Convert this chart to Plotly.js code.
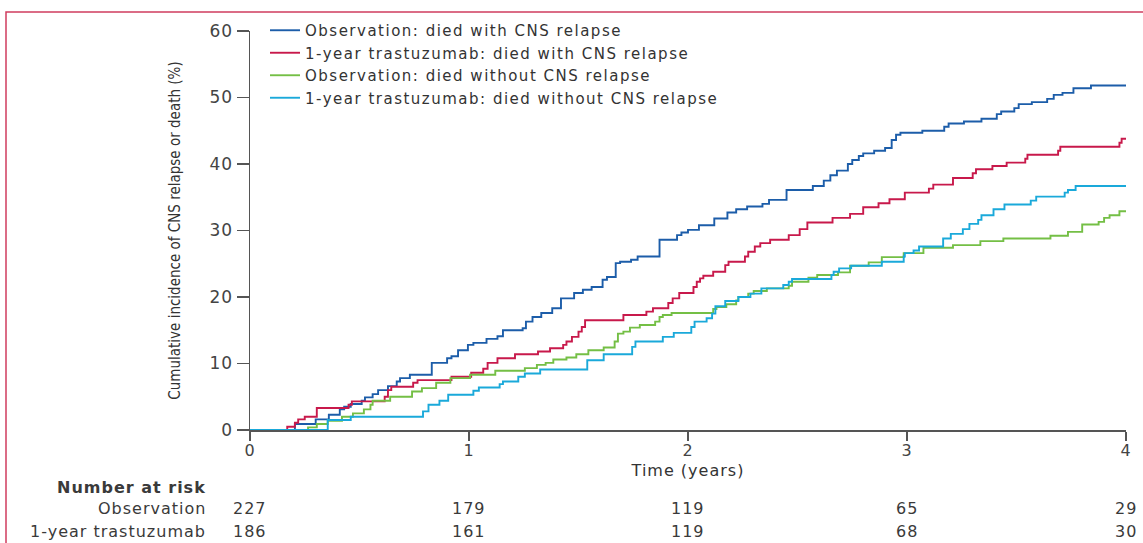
<!DOCTYPE html>
<html>
<head>
<meta charset="utf-8">
<script src="https://cdn.plot.ly/plotly-3.0.1.min.js"></script>
<style>
html,body{margin:0;padding:0;background:#fff;}
#chart{width:1143px;height:543px;}
.legendtext{letter-spacing:1.5px;}
.annotation-text{letter-spacing:1px;}
.xtick text, .ytick text{letter-spacing:1px;}
.g-xtitle text{letter-spacing:1px;}
</style>
</head>
<body>
<div id="chart"></div>
<script>
// Series names
const seriesNames = [
  "Observation: died with CNS relapse",
  "1-year trastuzumab: died with CNS relapse",
  "Observation: died without CNS relapse",
  "1-year trastuzumab: died without CNS relapse"
];
const seriesColors = ["#1c5da9", "#c8194b", "#74bf45", "#1aa9da"];

// Observation: died with CNS relapse
const obsCnsTime = [0,0.205,0.30,0.36,0.41,0.43,0.46,0.51,0.525,0.56,0.585,0.63,0.67,0.685,0.73,0.83,0.90,0.92,0.95,0.995,1.02,1.08,1.13,1.155,1.245,1.26,1.29,1.33,1.38,1.42,1.48,1.52,1.56,1.61,1.63,1.67,1.69,1.74,1.77,1.87,1.95,1.97,2.00,2.05,2.12,2.18,2.22,2.27,2.34,2.37,2.45,2.57,2.62,2.65,2.68,2.73,2.75,2.78,2.80,2.85,2.90,2.93,2.95,2.97,3.07,3.17,3.19,3.26,3.34,3.41,3.43,3.49,3.51,3.57,3.64,3.67,3.71,3.76,3.84,4.0];
const obsCnsPct  = [0,0.9,1.6,2.3,3.1,3.5,3.9,4.4,4.9,5.4,6.0,6.6,7.3,7.8,8.3,10.1,10.8,11.1,12.0,12.8,13.1,13.7,14.1,15.0,15.3,16.3,17.0,17.6,18.3,19.8,20.6,21.1,21.5,22.6,23.0,25.1,25.3,25.6,26.1,28.6,29.3,29.7,30.1,30.8,31.8,32.7,33.2,33.6,34.0,34.6,36.1,36.7,37.5,38.3,39.0,40.0,40.6,41.2,41.6,42.0,42.4,43.6,44.4,44.7,45.0,45.6,46.1,46.4,46.8,47.5,47.9,48.4,49.0,49.3,49.8,50.4,50.7,51.4,51.8,51.8];

// 1-year trastuzumab: died with CNS relapse
const trasCnsTime = [0,0.17,0.205,0.22,0.25,0.305,0.45,0.465,0.615,0.63,0.645,0.745,0.765,0.92,1.01,1.065,1.085,1.13,1.21,1.315,1.37,1.43,1.445,1.47,1.50,1.515,1.53,1.705,1.81,1.84,1.91,1.93,1.96,2.025,2.04,2.055,2.07,2.115,2.17,2.185,2.26,2.275,2.305,2.33,2.375,2.46,2.51,2.545,2.66,2.74,2.80,2.87,2.92,2.99,3.10,3.12,3.21,3.30,3.315,3.39,3.455,3.54,3.55,3.69,3.70,3.97,3.98,4.0];
const trasCnsPct  = [0,0.5,1.1,1.6,2.0,3.3,3.8,4.3,5.0,6.0,6.5,7.1,7.5,8.0,8.6,9.2,10.1,10.8,11.4,11.8,12.3,12.8,13.3,14.0,14.8,15.5,16.5,17.3,17.8,18.3,19.1,19.8,20.6,21.5,22.3,22.8,23.2,23.8,24.8,25.3,26.1,26.8,27.6,28.1,28.6,29.3,30.2,31.2,31.9,32.5,33.5,34.1,34.7,35.7,36.3,36.9,37.9,38.6,39.2,39.7,40.2,40.8,41.4,42.0,42.6,43.2,43.8,43.8];

// Observation: died without CNS relapse
const obsNoCnsTime = [0,0.265,0.305,0.355,0.42,0.47,0.52,0.55,0.56,0.64,0.74,0.785,0.85,0.915,1.005,1.12,1.255,1.31,1.35,1.385,1.445,1.49,1.545,1.615,1.665,1.68,1.705,1.735,1.78,1.85,1.87,1.885,1.925,2.115,2.13,2.175,2.22,2.23,2.275,2.30,2.36,2.46,2.475,2.55,2.59,2.685,2.74,2.825,2.885,2.985,3.075,3.21,3.335,3.44,3.655,3.735,3.80,3.875,3.90,3.925,3.97,4.0];
const obsNoCnsPct  = [0,0.4,0.9,1.4,2.0,2.5,3.1,3.8,4.4,5.0,5.8,6.3,7.1,7.8,8.3,8.9,9.3,9.8,10.1,10.6,10.9,11.4,12.0,12.4,13.3,14.5,14.8,15.4,15.8,16.3,17.0,17.3,17.6,18.2,18.5,18.9,19.5,20.0,20.5,20.9,21.3,21.7,22.3,22.9,23.3,23.7,24.7,25.2,26.0,26.6,27.4,27.8,28.4,28.8,29.2,29.8,30.9,31.3,31.9,32.3,32.9,32.9];

// 1-year trastuzumab: died without CNS relapse
const trasNoCnsTime = [0,0.355,0.46,0.79,0.815,0.865,0.905,1.02,1.045,1.14,1.155,1.225,1.255,1.325,1.54,1.615,1.745,1.76,1.885,1.935,2.015,2.03,2.085,2.11,2.125,2.17,2.23,2.285,2.335,2.435,2.46,2.475,2.655,2.665,2.69,2.745,2.885,2.985,2.99,3.03,3.055,3.165,3.20,3.255,3.285,3.325,3.34,3.395,3.445,3.565,3.59,3.72,3.735,3.77,4.0];
const trasNoCnsPct  = [0,1.5,2.0,2.8,3.8,4.4,5.3,5.9,6.4,6.9,7.3,8.0,8.5,9.1,10.5,11.4,12.5,13.3,14.0,14.6,15.5,16.3,16.8,17.5,18.6,19.4,20.0,20.5,21.3,21.8,22.3,22.7,23.3,23.8,24.3,24.7,25.3,26.1,26.6,27.0,27.6,28.8,29.5,30.2,31.0,31.6,32.3,33.2,33.9,34.5,35.1,35.7,36.1,36.7,36.7];

// Number at risk
const riskTimes = [0, 1, 2, 3, 4];
const riskGroups = ["Observation", "1-year trastuzumab"];
const riskObservation = [227, 179, 119, 65, 29];
const riskTrastuzumab = [186, 161, 119, 68, 30];

const xs = [obsCnsTime, trasCnsTime, obsNoCnsTime, trasNoCnsTime];
const ys = [obsCnsPct, trasCnsPct, obsNoCnsPct, trasNoCnsPct];

const traces = seriesNames.map((n, i) => ({
  type: "scatter", mode: "lines", name: n,
  x: xs[i], y: ys[i],
  line: {shape: "hv", color: seriesColors[i], width: 1.9}
}));

// plot area geometry (pixels) used to place table text in paper coords
const L = 250, T = 31, W = 876, H = 399;
const py = p => (T + H - p) / H;   // pixel y -> paper y
const px = p => (p - L) / W;       // pixel x -> paper x

const FAM = "DejaVu Sans, Open Sans, sans-serif";
const txtFont = {family: FAM, size: 16, color: "#3a3a3a"};
const annotations = [];
annotations.push({xref: "paper", yref: "paper", x: px(208), y: py(487), xanchor: "right", yanchor: "middle",
  text: "<b>Number at risk</b>", showarrow: false, font: txtFont});
const rowsY = [508, 531];
const rowVals = [riskObservation, riskTrastuzumab];
riskGroups.forEach((g, r) => {
  annotations.push({xref: "paper", yref: "paper", x: px(208), y: py(rowsY[r]), xanchor: "right", yanchor: "middle",
    text: g, showarrow: false, font: txtFont});
  riskTimes.forEach((t, k) => {
    annotations.push({xref: "x", yref: "paper", x: t, y: py(rowsY[r]), xanchor: "center", yanchor: "middle",
      text: String(rowVals[r][k]), showarrow: false, font: txtFont});
  });
});

const layout = {
  width: 1143, height: 543,
  margin: {l: L, r: 1143 - L - W, t: T, b: 543 - T - H, pad: 0},
  paper_bgcolor: "#fff", plot_bgcolor: "#fff",
  showlegend: true,
  legend: {x: px(265), y: py(14), xanchor: "left", yanchor: "top", bgcolor: "rgba(0,0,0,0)",
    font: {family: FAM, size: 15, color: "#333"}, tracegroupgap: 0},
  xaxis: {range: [0, 4], tickvals: [0, 1, 2, 3, 4], ticks: "outside", ticklen: 9, tickwidth: 1.5,
    tickcolor: "#555", showline: true, linecolor: "#555", linewidth: 1.5, showgrid: false, zeroline: false,
    ticklabelstandoff: -4,
    tickfont: {family: FAM, size: 16, color: "#444"},
    title: {text: "Time (years)", standoff: 6, font: {family: FAM, size: 16, color: "#333"}}},
  yaxis: {range: [0, 60], tickvals: [0, 10, 20, 30, 40, 50, 60], ticks: "outside", ticklen: 12, tickwidth: 1.5,
    tickcolor: "#555", showline: true, linecolor: "#555", linewidth: 1.5, showgrid: false, zeroline: false,
    tickfont: {family: FAM, size: 17, color: "#444"},
    title: {text: "Cumulative incidence of CNS relapse or death (%)", standoff: 25,
      font: {family: "DejaVu Sans Condensed, Liberation Sans Narrow, Noto Sans, sans-serif", size: 15, color: "#333"}}},
  annotations: annotations,
  shapes: [{type: "rect", xref: "paper", yref: "paper", x0: px(6), x1: px(1160), y0: py(600), y1: py(12),
    line: {color: "#cf3d5f", width: 1.5}, fillcolor: "rgba(0,0,0,0)", layer: "below"}]
};

Plotly.newPlot("chart", traces, layout, {displayModeBar: false, staticPlot: true});
</script>
</body>
</html>
